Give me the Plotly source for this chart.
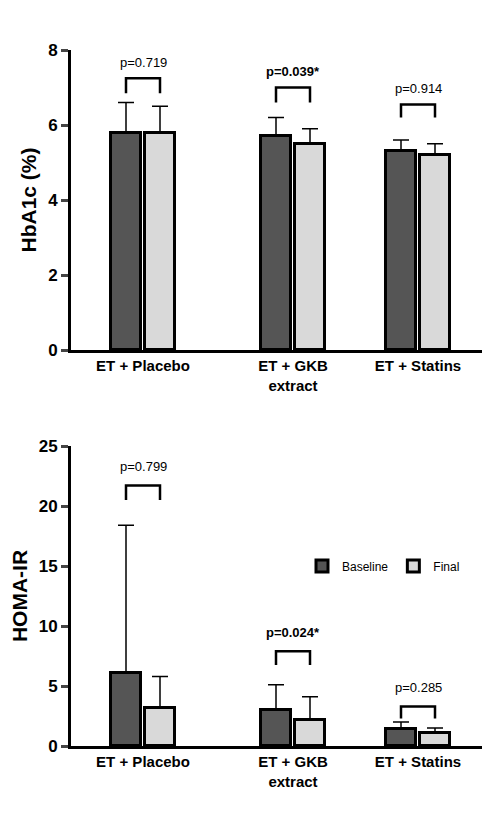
import plotly.graph_objects as go

groups = ["ET + Placebo", "ET + GKB<br>extract", "ET + Statins"]
group_pos = [135, 285, 410]

hba_base = [5.8, 5.7, 5.3]
hba_base_err = [0.8, 0.5, 0.3]
hba_final = [5.8, 5.5, 5.2]
hba_final_err = [0.7, 0.4, 0.3]
hba_p = ["p=0.719", "<b>p=0.039*</b>", "p=0.914"]
hba_br = [(6.85, 7.25), (6.6, 7.0), (6.2, 6.55)]
hba_ticks = [0, 2, 4, 6, 8]

homa_base = [6.1, 3.0, 1.4]
homa_base_err = [12.3, 2.1, 0.6]
homa_final = [3.2, 2.2, 1.1]
homa_final_err = [2.6, 1.9, 0.4]
homa_p = ["p=0.799", "<b>p=0.024*</b>", "p=0.285"]
homa_br = [(20.5, 21.7), (6.75, 7.9), (2.3, 3.3)]
homa_ticks = [0, 5, 10, 15, 20, 25]

off = 17
bw = 30
fig = go.Figure()
def add(ax, base, be, fin, fe, show):
    xa, ya = ("x", "y") if ax == 1 else ("x2", "y2")
    fig.add_bar(x=[p - off for p in group_pos], y=base, width=bw, name="Baseline",
                marker=dict(color="#555555", line=dict(color="black", width=3)),
                error_y=dict(type="data", array=be, symmetric=False, arrayminus=[0]*3,
                             color="black", thickness=1.5, width=8),
                xaxis=xa, yaxis=ya, showlegend=show)
    fig.add_bar(x=[p + off for p in group_pos], y=fin, width=bw, name="Final",
                marker=dict(color="#d9d9d9", line=dict(color="black", width=3)),
                error_y=dict(type="data", array=fe, symmetric=False, arrayminus=[0]*3,
                             color="black", thickness=1.5, width=8),
                xaxis=xa, yaxis=ya, showlegend=show)
add(1, hba_base, hba_base_err, hba_final, hba_final_err, False)
add(2, homa_base, homa_base_err, homa_final, homa_final_err, True)

def brackets(br, ptxt, xr, yr, tdy):
    for p, (lo, hi), t in zip(group_pos, br, ptxt):
        fig.add_shape(type="path", xref=xr, yref=yr,
                      path=f"M {p-off} {lo} L {p-off} {hi} L {p+off} {hi} L {p+off} {lo}",
                      line=dict(color="black", width=2.5))
        fig.add_annotation(x=p, y=hi + tdy, xref=xr, yref=yr, text=t, showarrow=False,
                           font=dict(size=13, color="black", family="Liberation Sans"))
brackets(hba_br, hba_p, "x", "y", 0.42)
brackets(homa_br, homa_p, "x2", "y2", 1.6)

xd = [63/490, 485/490]
xcommon = dict(range=[63, 485], domain=xd, tickvals=group_pos, ticktext=[f"<b>{g}</b>" for g in groups],
               showline=True, linecolor="black", linewidth=3, ticks="", automargin=False,
               tickfont=dict(size=15, color="black", family="Liberation Sans"), showgrid=False, zeroline=False)
ycommon = dict(showline=True, linecolor="black", linewidth=3, ticks="outside", ticklen=7, tickwidth=3,
               automargin=False, showgrid=False, zeroline=False,
               tickfont=dict(size=17, color="black", family="Liberation Sans"))
tf = dict(size=21, color="black", family="Liberation Sans")
fig.update_layout(
    width=490, height=817, margin=dict(l=0, r=0, t=0, b=0),
    plot_bgcolor="white", paper_bgcolor="white", bargap=0,
    xaxis=dict(**xcommon, anchor="y"),
    xaxis2=dict(**xcommon, anchor="y2"),
    yaxis=dict(**ycommon, domain=[1-342/817, 1-42/817], range=[0, 8], tickvals=hba_ticks,
               ticktext=[f"<b>{v}</b>" for v in hba_ticks],
               title=dict(text="<b>HbA1c (%)</b>", font=tf, standoff=6), anchor="x"),
    yaxis2=dict(**ycommon, domain=[1-738/817, 1-438/817], range=[0, 25], tickvals=homa_ticks,
                ticktext=[f"<b>{v}</b>" for v in homa_ticks],
                title=dict(text="<b>HOMA-IR</b>", font=tf, standoff=6), anchor="x2"),
    legend=dict(orientation="h", x=0.6, y=1-558/817, yanchor="middle", bgcolor="rgba(0,0,0,0)",
                font=dict(size=12, color="black", family="Liberation Sans")),
)
fig.write_html("out.html")
